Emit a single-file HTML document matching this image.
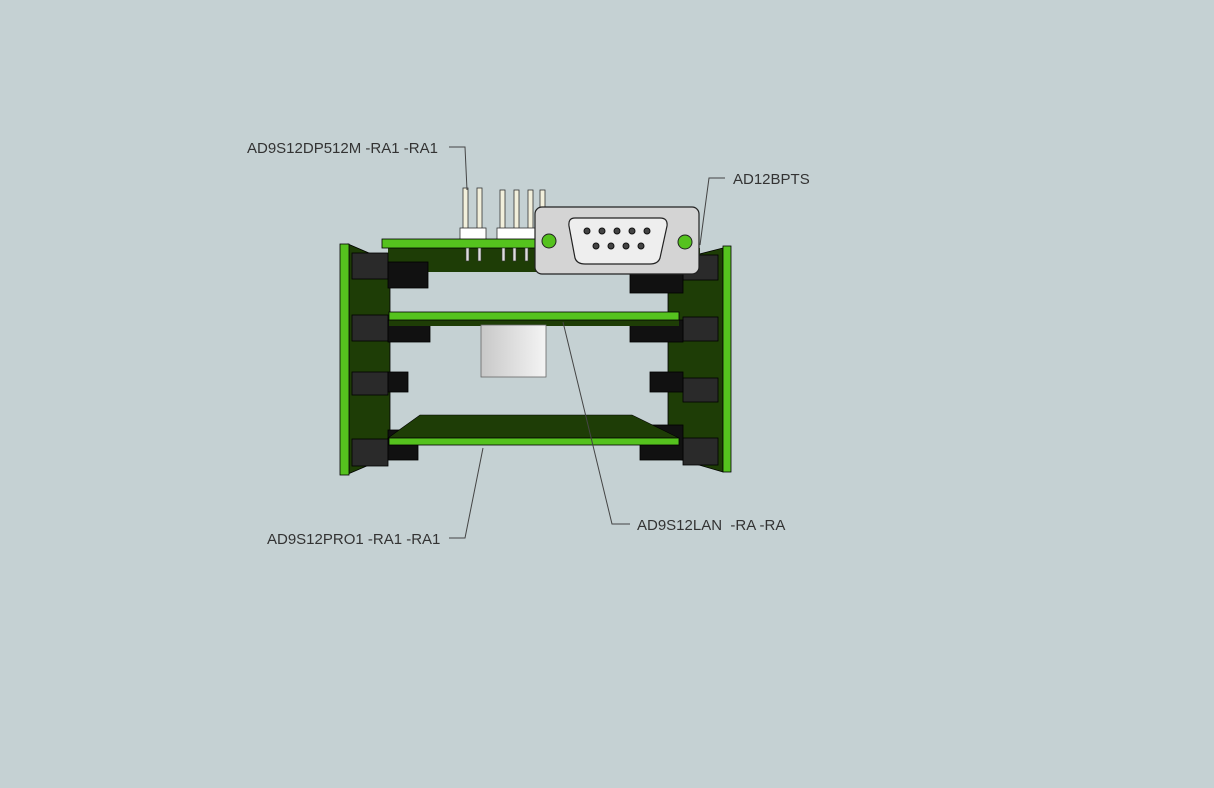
<!DOCTYPE html>
<html><head><meta charset="utf-8"><style>
html,body{margin:0;padding:0;background:#c5d1d3;}
svg{display:block}
text{font-family:"Liberation Sans",sans-serif;font-size:15px;fill:#333}
</style></head><body>
<svg width="1214" height="788" viewBox="0 0 1214 788">
<rect width="1214" height="788" fill="#c5d1d3"/>
<polygon points="348,244 390,262 390,456 348,474" fill="#1e3d06" stroke="#000" stroke-width="0.8"/>
<rect x="340" y="244" width="9" height="231" fill="#55c21e" stroke="#000" stroke-width="0.8"/>
<polygon points="668,262 723,248 723,472 668,456" fill="#1e3d06" stroke="#000" stroke-width="0.8"/>
<rect x="723" y="246" width="8" height="226" fill="#55c21e" stroke="#000" stroke-width="0.8"/>
<g fill="#f2f0dc" stroke="#333" stroke-width="0.8">
<rect x="463" y="188" width="5" height="45"/><rect x="477" y="188" width="5" height="45"/>
<rect x="500" y="190" width="5" height="45"/><rect x="514" y="190" width="5" height="45"/><rect x="528" y="190" width="5" height="45"/><rect x="540" y="190" width="5" height="45"/>
<rect x="460" y="228" width="26" height="12" fill="#fff"/>
<rect x="497" y="228" width="40" height="12" fill="#fff"/>
</g>
<polygon points="388,248 700,248 700,272 388,272" fill="#1e3d06"/>
<rect x="382" y="239" width="220" height="9" fill="#55c21e" stroke="#000" stroke-width="0.8"/>
<g fill="#ddd" stroke="#333" stroke-width="0.6">
<rect x="466" y="248" width="3" height="13"/><rect x="478" y="248" width="3" height="13"/><rect x="502" y="248" width="3" height="13"/><rect x="513" y="248" width="3" height="13"/><rect x="525" y="248" width="3" height="13"/>
</g>
<g fill="#2a2a2a" stroke="#000" stroke-width="0.8">
<rect x="352" y="253" width="36" height="26"/><rect x="388" y="262" width="40" height="26" fill="#111"/>
<rect x="352" y="315" width="36" height="26"/><rect x="388" y="320" width="42" height="22" fill="#111"/>
<rect x="352" y="372" width="36" height="23"/><rect x="388" y="372" width="20" height="20" fill="#111"/>
<rect x="352" y="439" width="36" height="27"/><rect x="388" y="430" width="30" height="30" fill="#111"/>
<rect x="683" y="255" width="35" height="25"/><rect x="630" y="265" width="53" height="28" fill="#111"/>
<rect x="683" y="317" width="35" height="24"/><rect x="630" y="320" width="53" height="22" fill="#111"/>
<rect x="683" y="378" width="35" height="24"/><rect x="650" y="372" width="33" height="20" fill="#111"/>
<rect x="683" y="438" width="35" height="27"/><rect x="640" y="425" width="43" height="35" fill="#111"/>
</g>
<rect x="389" y="319" width="290" height="7" fill="#1e3d06"/>
<rect x="389" y="312" width="290" height="8" fill="#55c21e" stroke="#000" stroke-width="0.8"/>
<defs><linearGradient id="g" x1="0" x2="1"><stop offset="0" stop-color="#c8c8c8"/><stop offset="1" stop-color="#f4f4f4"/></linearGradient></defs>
<rect x="481" y="325" width="65" height="52" fill="url(#g)" stroke="#666" stroke-width="0.8"/>
<polygon points="420,415 632,415 679,438 388,438" fill="#1e3d06" stroke="#000" stroke-width="0.6"/>
<rect x="389" y="438" width="290" height="7" fill="#55c21e" stroke="#000" stroke-width="0.8"/>
<rect x="535" y="207" width="164" height="67" rx="7" fill="#d4d4d4" stroke="#222" stroke-width="1.2"/>
<path d="M575,218 H660 Q668,218 667,226 L660,258 Q658,264 650,264 H585 Q577,264 575,258 L569,226 Q568,218 575,218Z" fill="#eee" stroke="#222" stroke-width="1.2"/>
<g fill="#444" stroke="#111"><circle cx="587" cy="231" r="3"/><circle cx="602" cy="231" r="3"/><circle cx="617" cy="231" r="3"/><circle cx="632" cy="231" r="3"/><circle cx="647" cy="231" r="3"/>
<circle cx="596" cy="246" r="3"/><circle cx="611" cy="246" r="3"/><circle cx="626" cy="246" r="3"/><circle cx="641" cy="246" r="3"/></g>
<circle cx="549" cy="241" r="7" fill="#55c21e" stroke="#222"/><circle cx="685" cy="242" r="7" fill="#55c21e" stroke="#222"/>
<g stroke="#444" stroke-width="1" fill="none">
<polyline points="449,147 465,147 467,190"/>
<polyline points="725,178 709,178 700,245"/>
<polyline points="630,524 612,524 563,322"/>
<polyline points="449,538 465,538 483,448"/>
</g>
<text x="247" y="153">AD9S12DP512M -RA1 -RA1</text>
<text x="733" y="184">AD12BPTS</text>
<text x="637" y="530">AD9S12LAN &#160;-RA -RA</text>
<text x="267" y="544">AD9S12PRO1 -RA1 -RA1</text>
</svg>
</body></html>
